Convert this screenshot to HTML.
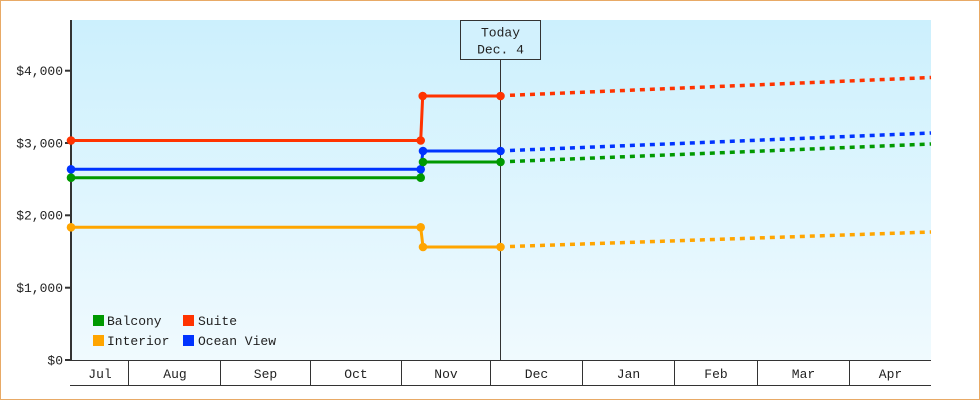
<!DOCTYPE html>
<html>
<head>
<meta charset="utf-8">
<style>
html,body{margin:0;padding:0;background:#fff;}
svg{display:block;}
text{font-family:"Liberation Mono","DejaVu Sans Mono",monospace;font-size:13px;fill:#222;}
</style>
</head>
<body>
<svg width="980" height="400" viewBox="0 0 980 400" xmlns="http://www.w3.org/2000/svg">
<defs>
<linearGradient id="bg" x1="0" y1="0" x2="0" y2="1">
<stop offset="0" stop-color="#ccf0fd"/>
<stop offset="1" stop-color="#f0fafe"/>
</linearGradient>
</defs>
<rect x="0.5" y="0.5" width="979" height="399" fill="#fff" stroke="#e8aa66" stroke-width="1"/>
<rect x="72" y="20" width="859" height="340" fill="url(#bg)"/>

<!-- y axis -->
<line x1="71" y1="20" x2="71" y2="361" stroke="#333" stroke-width="2"/>
<g stroke="#333" stroke-width="2">
<line x1="65" y1="360" x2="71" y2="360"/>
<line x1="65" y1="287.7" x2="71" y2="287.7"/>
<line x1="65" y1="215.3" x2="71" y2="215.3"/>
<line x1="65" y1="143" x2="71" y2="143"/>
<line x1="65" y1="70.7" x2="71" y2="70.7"/>
</g>
<g text-anchor="end">
<text x="63" y="364.5">$0</text>
<text x="63" y="292">$1,000</text>
<text x="63" y="219.5">$2,000</text>
<text x="63" y="147.5">$3,000</text>
<text x="63" y="75">$4,000</text>
</g>

<!-- x axis band -->
<g stroke="#333" stroke-width="1">
<line x1="70" y1="360.5" x2="931" y2="360.5"/>
<line x1="70" y1="385.5" x2="931" y2="385.5"/>
<line x1="128.5" y1="360" x2="128.5" y2="385"/>
<line x1="220.5" y1="360" x2="220.5" y2="385"/>
<line x1="310.5" y1="360" x2="310.5" y2="385"/>
<line x1="401.5" y1="360" x2="401.5" y2="385"/>
<line x1="490.5" y1="360" x2="490.5" y2="385"/>
<line x1="582.5" y1="360" x2="582.5" y2="385"/>
<line x1="674.5" y1="360" x2="674.5" y2="385"/>
<line x1="757.5" y1="360" x2="757.5" y2="385"/>
<line x1="849.5" y1="360" x2="849.5" y2="385"/>
</g>
<g text-anchor="middle">
<text x="100" y="378">Jul</text>
<text x="175" y="378">Aug</text>
<text x="265.5" y="378">Sep</text>
<text x="356" y="378">Oct</text>
<text x="446" y="378">Nov</text>
<text x="536.5" y="378">Dec</text>
<text x="628.5" y="378">Jan</text>
<text x="716" y="378">Feb</text>
<text x="803.5" y="378">Mar</text>
<text x="890.5" y="378">Apr</text>
</g>

<!-- today marker -->
<line x1="500.5" y1="60" x2="500.5" y2="360" stroke="#333" stroke-width="1"/>
<rect x="460.5" y="20.5" width="80" height="39" fill="#d2f1fd" stroke="#333" stroke-width="1"/>
<text x="500.5" y="36.5" text-anchor="middle">Today</text>
<text x="500.5" y="53.5" text-anchor="middle">Dec. 4</text>

<!-- series solid -->
<g fill="none" stroke-width="3" stroke-linejoin="round">
<polyline stroke="#ff3300" points="71,140.5 420.7,140.5 422.7,96 500.5,96"/>
<polyline stroke="#0033ff" points="71,169.3 420.7,169.3 423,151 500.5,151"/>
<polyline stroke="#009900" points="71,177.7 420.7,177.7 423,162 500.5,162"/>
<polyline stroke="#ffa500" points="71,227.3 420.7,227.3 423,247 500.5,247"/>
</g>
<!-- series dashed -->
<g fill="none" stroke-width="3.5" stroke-dasharray="5,5">
<polyline stroke="#ff3300" points="510,95.3 931,77.5"/>
<polyline stroke="#0033ff" points="510,150.5 931,133"/>
<polyline stroke="#009900" points="510,161.5 931,144"/>
<polyline stroke="#ffa500" points="510,246.5 931,232"/>
</g>
<!-- markers -->
<g>
<g fill="#ff3300">
<circle cx="71" cy="140.5" r="4.3"/>
<circle cx="420.7" cy="140.5" r="4.3"/>
<circle cx="422.7" cy="96" r="4.3"/>
<circle cx="500.5" cy="96" r="4.3"/>
</g>
<g fill="#0033ff">
<circle cx="71" cy="169.3" r="4.3"/>
<circle cx="420.7" cy="169.3" r="4.3"/>
<circle cx="423" cy="151" r="4.3"/>
<circle cx="500.5" cy="151" r="4.3"/>
</g>
<g fill="#009900">
<circle cx="71" cy="177.7" r="4.3"/>
<circle cx="420.7" cy="177.7" r="4.3"/>
<circle cx="423" cy="162" r="4.3"/>
<circle cx="500.5" cy="162" r="4.3"/>
</g>
<g fill="#ffa500">
<circle cx="71" cy="227.3" r="4.3"/>
<circle cx="420.7" cy="227.3" r="4.3"/>
<circle cx="423" cy="247" r="4.3"/>
<circle cx="500.5" cy="247" r="4.3"/>
</g>
</g>

<!-- legend -->
<rect x="93" y="315" width="11" height="11" fill="#009900"/>
<text x="107" y="325">Balcony</text>
<rect x="183" y="315" width="11" height="11" fill="#ff3300"/>
<text x="198" y="325">Suite</text>
<rect x="93" y="335" width="11" height="11" fill="#ffa500"/>
<text x="107" y="345">Interior</text>
<rect x="183" y="335" width="11" height="11" fill="#0033ff"/>
<text x="198" y="345">Ocean View</text>
</svg>
</body>
</html>
